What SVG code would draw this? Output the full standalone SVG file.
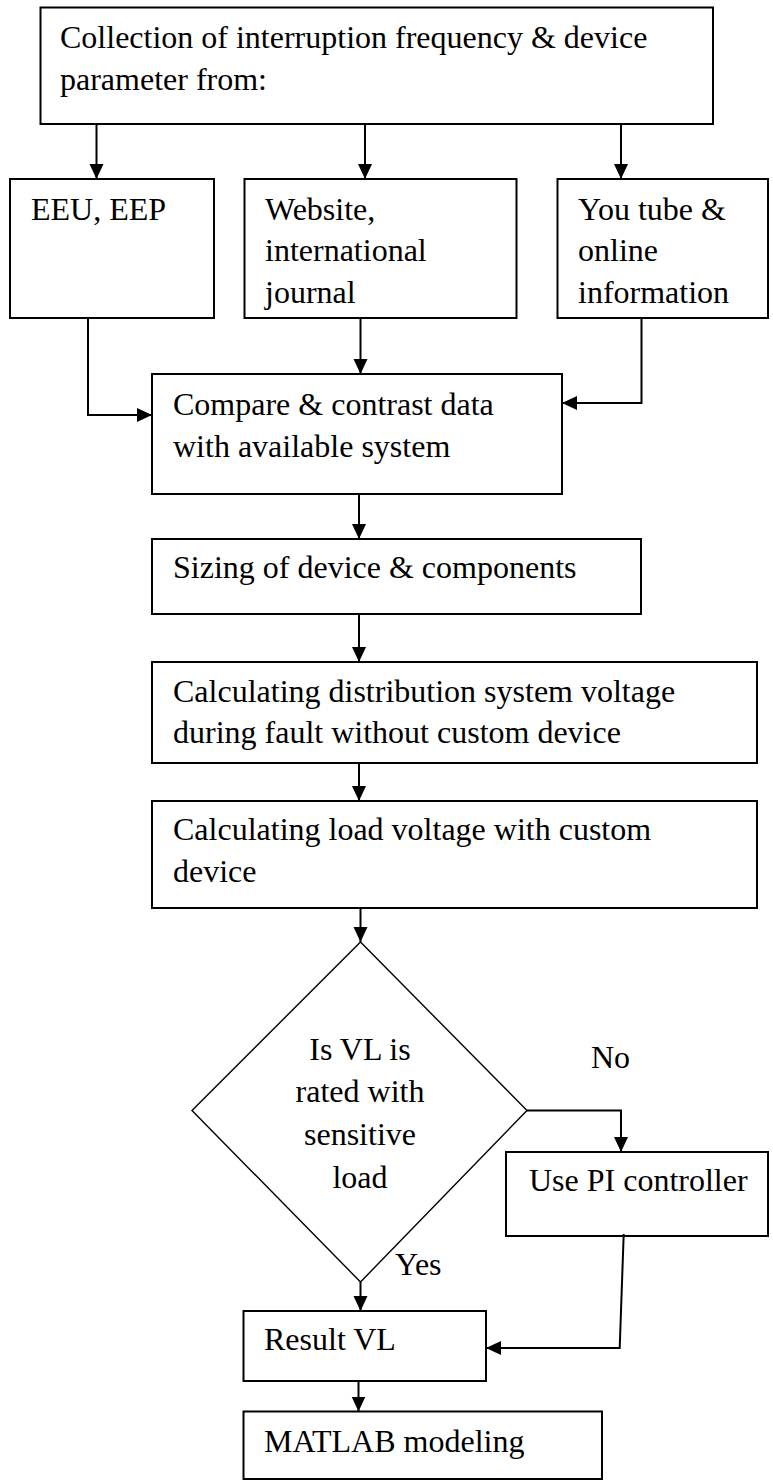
<svg xmlns="http://www.w3.org/2000/svg" width="773" height="1482" viewBox="0 0 773 1482">
<style>
.box{fill:#fff;stroke:#000;stroke-width:2}
.dia{fill:#fff;stroke:#000;stroke-width:1.4}
.t{font-family:"Liberation Serif","Times New Roman",serif;font-size:32px;fill:#000}
.c{fill:none;stroke:#000;stroke-width:2}
</style>
<defs>
<marker id="ah" markerUnits="userSpaceOnUse" markerWidth="16" markerHeight="15" refX="15" refY="7" orient="auto">
<path d="M0,0 L15,7 L0,14 z" fill="#000"/>
</marker>
</defs>
<rect width="773" height="1482" fill="#fff"/>
<g id="n1"><rect class="box" x="40.5" y="7.5" width="672.5" height="116.5"/>
<text class="t" x="60" y="48">Collection of interruption frequency &amp; device</text>
<text class="t" x="60" y="90">parameter from:</text></g>
<g id="n2"><rect class="box" x="10" y="179" width="204" height="139"/>
<text class="t" x="31" y="220">EEU, EEP</text></g>
<g id="n3"><rect class="box" x="244.5" y="179" width="272" height="139"/>
<text class="t" x="265" y="220">Website,</text>
<text class="t" x="265" y="261">international</text>
<text class="t" x="265" y="303">journal</text></g>
<g id="n4"><rect class="box" x="557.5" y="179" width="210.5" height="139"/>
<text class="t" x="578" y="220">You tube &amp;</text>
<text class="t" x="578" y="261">online</text>
<text class="t" x="578" y="303">information</text></g>
<g id="n5"><rect class="box" x="152" y="374" width="410" height="120"/>
<text class="t" x="173" y="415">Compare &amp; contrast data</text>
<text class="t" x="173" y="457">with available system</text></g>
<g id="n6"><rect class="box" x="152" y="539" width="489" height="75"/>
<text class="t" x="173" y="578">Sizing of device &amp; components</text></g>
<g id="n7"><rect class="box" x="152" y="662" width="605" height="101"/>
<text class="t" x="173" y="702">Calculating distribution system voltage</text>
<text class="t" x="173" y="743">during fault without custom device</text></g>
<g id="n8"><rect class="box" x="152" y="801" width="605" height="107"/>
<text class="t" x="173" y="840">Calculating load voltage with custom</text>
<text class="t" x="173" y="882">device</text></g>
<g id="n9"><polygon class="dia" points="360.5,942 527,1110.5 360.5,1282 192,1110.5"/>
<text class="t" x="360" y="1060" text-anchor="middle">Is VL is</text>
<text class="t" x="360" y="1102" text-anchor="middle">rated with</text>
<text class="t" x="360" y="1145" text-anchor="middle">sensitive</text>
<text class="t" x="360" y="1188" text-anchor="middle">load</text></g>
<g id="n10"><rect class="box" x="506" y="1152" width="262" height="84"/>
<text class="t" x="529" y="1191">Use PI controller</text></g>
<g id="n11"><rect class="box" x="243.5" y="1311" width="242.5" height="70"/>
<text class="t" x="264" y="1350">Result VL</text></g>
<g id="n12"><rect class="box" x="243.5" y="1411.5" width="358.5" height="67.5"/>
<text class="t" x="264" y="1452">MATLAB modeling</text></g>
<g id="connectors">
<line class="c" x1="96.5" y1="124" x2="96.5" y2="179" marker-end="url(#ah)"/>
<line class="c" x1="365" y1="124" x2="365" y2="179" marker-end="url(#ah)"/>
<line class="c" x1="621" y1="124" x2="621" y2="179" marker-end="url(#ah)"/>
<polyline class="c" points="88,317 88,415 152,415" marker-end="url(#ah)"/>
<line class="c" x1="360.5" y1="317" x2="360.5" y2="374" marker-end="url(#ah)"/>
<polyline class="c" points="641.5,319 641.5,403 562,403" marker-end="url(#ah)"/>
<line class="c" x1="359" y1="494" x2="359" y2="539" marker-end="url(#ah)"/>
<line class="c" x1="359" y1="614" x2="359" y2="662" marker-end="url(#ah)"/>
<line class="c" x1="359" y1="763" x2="359" y2="801" marker-end="url(#ah)"/>
<line class="c" x1="360.5" y1="908" x2="360.5" y2="942" marker-end="url(#ah)"/>
<polyline class="c" points="527,1110.5 621,1110.5 621,1152" marker-end="url(#ah)"/>
<polyline class="c" points="623.7,1234 619.7,1348 486,1348" marker-end="url(#ah)"/>
<line class="c" x1="360.5" y1="1282" x2="360.5" y2="1311" marker-end="url(#ah)"/>
<line class="c" x1="358.5" y1="1381" x2="358.5" y2="1411.5" marker-end="url(#ah)"/>
</g>
<g id="labels">
<text class="t" x="591" y="1068">No</text>
<text class="t" x="395" y="1275">Yes</text>
</g>
</svg>
